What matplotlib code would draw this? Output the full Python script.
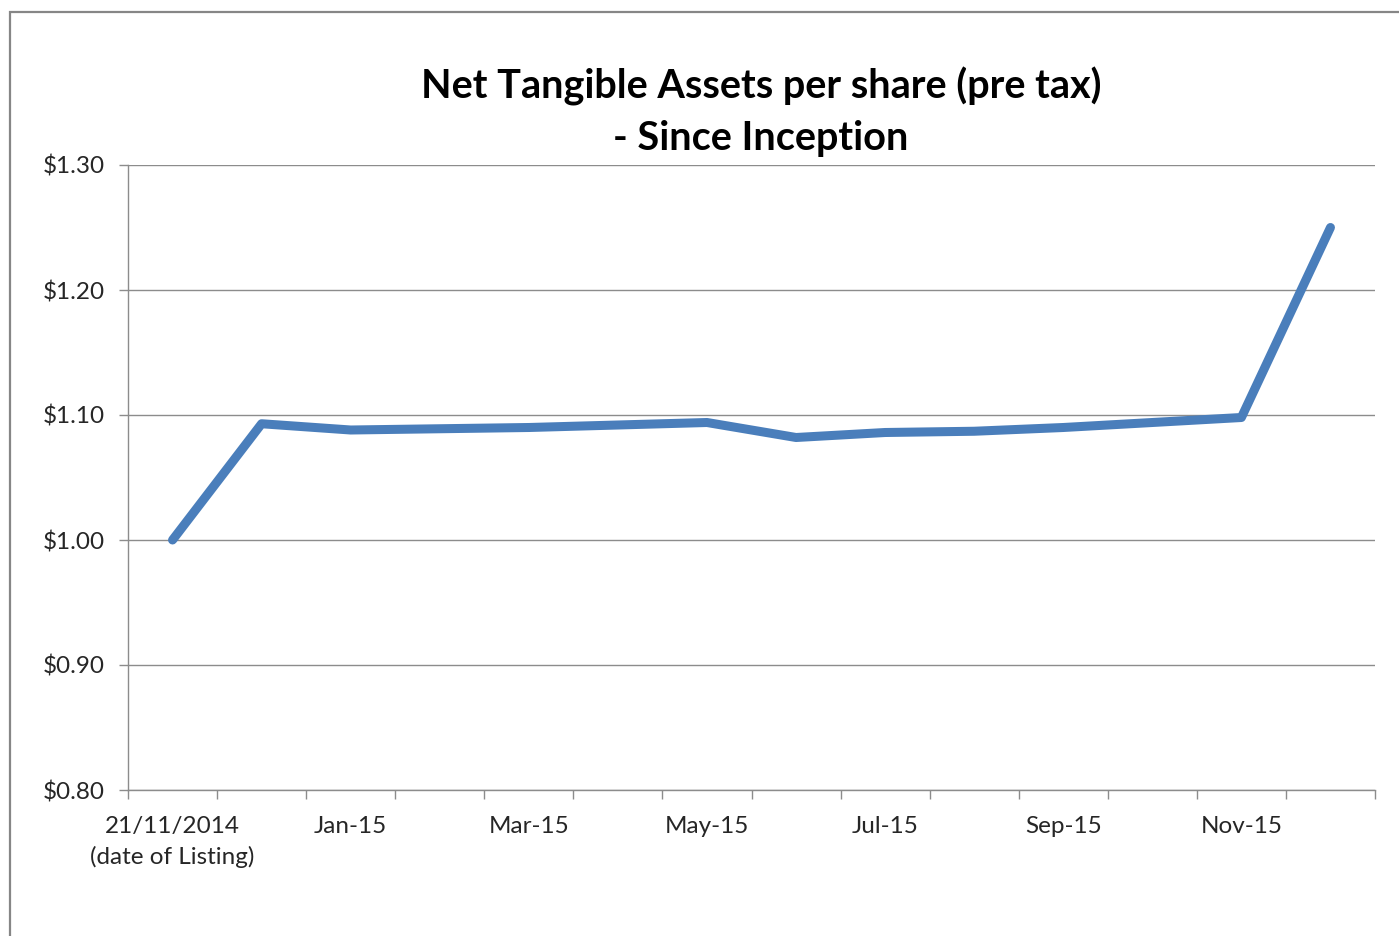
import matplotlib
matplotlib.use("Agg")
import matplotlib.pyplot as plt
from matplotlib.patches import Rectangle

categories = ["21/11/2014\n(date of Listing)", "Dec-14", "Jan-15", "Feb-15", "Mar-15", "Apr-15",
              "May-15", "Jun-15", "Jul-15", "Aug-15", "Sep-15", "Oct-15", "Nov-15", "Dec-15"]
nta = [1.000, 1.093, 1.088, 1.089, 1.090, 1.092, 1.094, 1.082, 1.086, 1.087, 1.090, 1.094, 1.098, 1.250]
yticks = [0.80, 0.90, 1.00, 1.10, 1.20, 1.30]
ytick_labels = ["$0.80", "$0.90", "$1.00", "$1.10", "$1.20", "$1.30"]
title = "Net Tangible Assets per share (pre tax)\n- Since Inception"

plt.rcParams['font.family'] = ['Lato', 'DejaVu Sans']

W, H = 1399, 936
fig = plt.figure(figsize=(W / 100, H / 100), dpi=100)
fig.patch.set_facecolor("white")

# outer chart frame (cropped at right/bottom)
fig.patches.append(Rectangle((10 / W, -0.05), 1.2, 1 - 12 / H + 0.05, transform=fig.transFigure,
                             fill=False, edgecolor="#868686", linewidth=1.6))

ax = fig.add_axes([128 / W, 1 - 790 / H, (1375 - 128) / W, (790 - 165) / H])
x = list(range(len(categories)))
ax.plot(x, nta, color="#4A7EBB", linewidth=6.5, solid_capstyle="round", solid_joinstyle="round", zorder=3)

ax.set_xlim(-0.5, len(categories) - 0.5)
ax.set_ylim(0.80, 1.30)
ax.set_yticks(yticks)
ax.set_yticklabels(ytick_labels)
ax.yaxis.grid(True, color="#8C8C8C", linewidth=1.0)
ax.set_axisbelow(True)

# category boundary ticks, labels on every other category
ax.set_xticks([i - 0.5 for i in range(len(categories) + 1)])
ax.set_xticklabels([])
ax.set_xticks(x[::2], minor=True)
ax.set_xticklabels(categories[::2], minor=True, linespacing=1.45)
ax.tick_params(axis="x", which="major", length=6.5, color="#8C8C8C", width=1.0)
ax.tick_params(axis="x", which="minor", length=0, pad=19, labelsize=17.5, labelcolor="#262626")
ax.tick_params(axis="y", length=6.5, color="#8C8C8C", width=1.0, labelsize=17.5, labelcolor="#262626", pad=10)

for s in ["top", "right"]:
    ax.spines[s].set_visible(False)
for s in ["left", "bottom"]:
    ax.spines[s].set_color("#8C8C8C")
    ax.spines[s].set_linewidth(1.0)

fig.text(761 / W, 1 - 112 / H, title, ha="center", va="center", fontsize=28.5, fontweight="bold",
         color="black", linespacing=1.45)

fig.savefig("out.png", dpi=100)
